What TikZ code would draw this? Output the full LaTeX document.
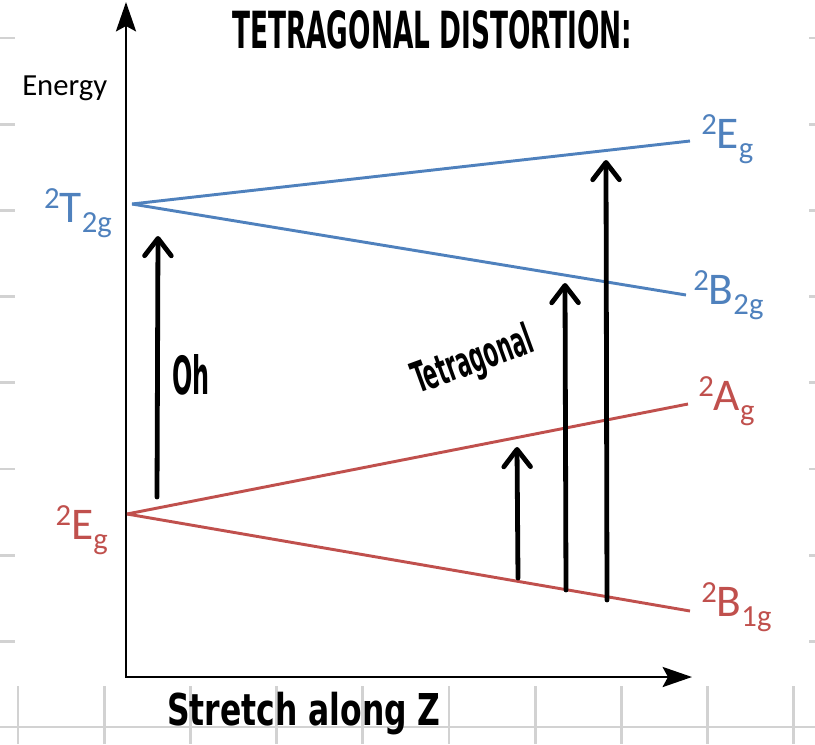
\documentclass[tikz,border=0pt]{standalone}
\usepackage{fontspec}
\usepackage{graphicx}
\setmainfont{Carlito}
\newfontfamily\hand{DejaVu Sans Condensed}
\usetikzlibrary{arrows.meta}
\definecolor{eblue}{HTML}{4F81BD}
\definecolor{ered}{HTML}{C0504D}
\definecolor{gridgrey}{HTML}{D2D2D2}
\newcommand{\term}[3]{\raisebox{0.3em}{\fontsize{23}{23}\selectfont #1}#2\raisebox{-0.24em}{\fontsize{23}{23}\selectfont #3}}
\begin{document}
\begin{tikzpicture}[x=0.75pt,y=-0.75pt,
  gridline/.style={gridgrey, line width=2.2pt},
  axis/.style={line width=2.2pt, line join=miter,
    {Stealth[length=22pt,width=15pt,inset=4pt]}-{Stealth[length=22pt,width=15pt,inset=4pt]}},
  level/.style={line width=2.2pt},
  handarrow/.style={line width=3.6pt, line cap=round,
    -{Straight Barb[length=13pt,width=20pt,round]}},
  lab/.style={inner sep=0pt, font=\fontsize{34}{34}\selectfont},
  handtext/.style={inner sep=0pt, anchor=base west}]
\useasboundingbox (0,0) rectangle (815,744);
% background grid fragments
\foreach \y in {38,124.2,210.4,296.6,382.8,469,555.2,641.4}{
  \draw[gridline] (0,\y) -- (15,\y);
  \draw[gridline] (809,\y) -- (815,\y);
}
\foreach \x in {18,104.2,190.4,276.6,362.8,449,535.2,621.4,707.6,793.8}{
  \draw[gridline] (\x,686) -- (\x,744);
}
\draw[gridline] (0,727) -- (815,727);
% axes
\coordinate (O) at (126,677);
\coordinate (ytip) at (126,2);
\coordinate (xtip) at (692,677);
\draw[axis] (ytip) -- (O) -- (xtip);
\node[inner sep=0pt, anchor=base west, font=\fontsize{23}{23}\selectfont] (energy) at (22,95) {Energy};
% labels
\node[lab, anchor=base east, text=eblue] (T2g) at (112,222) {\term{2}{T}{2g}};
\node[lab, anchor=base east, text=ered] (Eg) at (108,539) {\term{2}{E}{g}};
\node[lab, anchor=base west, text=eblue] (EgU) at (701,148) {\term{2}{E}{g}};
\node[lab, anchor=base west, text=eblue] (B2g) at (693,304) {\term{2}{B}{2g}};
\node[lab, anchor=base west, text=ered] (Ag) at (698,410) {\term{2}{A}{g}};
\node[lab, anchor=base west, text=ered] (B1g) at (701,616) {\term{2}{B}{1g}};
% level lines
\coordinate (t2gL) at (132,204);
\coordinate (egUR) at (690,141);
\coordinate (b2gR) at (686,295);
\coordinate (egL) at (127,514);
\coordinate (agR) at (688,404);
\coordinate (b1gR) at (690,611);
\draw[level, eblue] (t2gL) -- (egUR);
\draw[level, eblue] (t2gL) -- (b2gR);
\draw[level, ered] (egL) -- (agR);
\draw[level, ered] (egL) -- (b1gR);
% hand-drawn transition arrows
\coordinate (a1b) at (157,497); \coordinate (a1t) at (158,236);
\coordinate (a2b) at (518,578); \coordinate (a2t) at (517,447);
\coordinate (a3b) at (566,590); \coordinate (a3t) at (565,283);
\coordinate (a4b) at (607,600); \coordinate (a4t) at (606,160);
\draw[handarrow] (a1b) -- (a1t);
\draw[handarrow] (a2b) -- (a2t);
\draw[handarrow] (a3b) -- (a3t);
\draw[handarrow] (a4b) -- (a4t);
% handwritten texts
\node[handtext] (title) at (232,48) {\resizebox{300pt}{28.5pt}{\hand\bfseries TETRAGONAL DISTORTION:}};
\node[handtext] (oh) at (172,394) {\resizebox{28pt}{30pt}{\hand\bfseries Oh}};
\node[handtext, rotate=20] (tet) at (418,394) {\resizebox{94pt}{24pt}{\hand\bfseries Tetragonal}};
\node[handtext] (stretch) at (167,725) {\resizebox{205pt}{25pt}{\hand\bfseries Stretch along Z}};
\end{tikzpicture}
\end{document}
